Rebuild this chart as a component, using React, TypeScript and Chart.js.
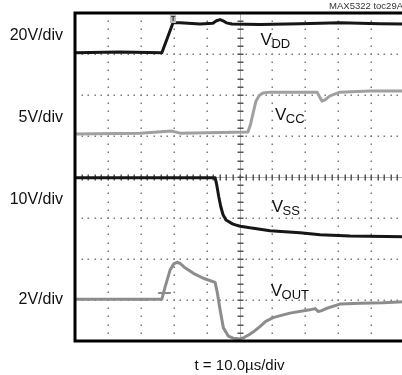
import { useEffect, useRef } from "react";
import { Chart, registerables } from "chart.js";

Chart.register(...registerables);

// time axis in divisions (10 div full scale), voltage axis in divisions (8 div)
const X_DIVS = 10;
const Y_DIVS = 8;

const vddX = [0, 1.37, 2.64, 2.98, 3.19, 3.8, 4.19, 4.3, 4.41, 4.5, 4.6, 4.77, 5.62, 6.84, 8.05, 9.27, 10];
const vddY = [7.03, 7.05, 7.03, 7.76, 7.76, 7.73, 7.75, 7.81, 7.84, 7.81, 7.76, 7.73, 7.72, 7.74, 7.76, 7.74, 7.73];

const vccX = [0, 1.98, 2.95, 3.19, 5.26, 5.34, 5.42, 5.5, 5.6, 5.71, 5.93, 7.36, 7.45, 7.51, 7.6, 7.75, 8.05, 8.97, 10];
const vccY = [5.05, 5.07, 5.12, 5.07, 5.1, 5.3, 5.58, 5.85, 5.99, 6.05, 6.07, 6.07, 5.93, 5.85, 5.88, 5.98, 6.07, 6.1, 6.1];

const vssX = [0, 4.26, 4.31, 4.37, 4.43, 4.5, 4.59, 4.8, 5.02, 5.32, 5.93, 6.84, 7.45, 8.36, 10];
const vssY = [3.98, 3.98, 3.8, 3.52, 3.28, 3.08, 2.95, 2.85, 2.8, 2.76, 2.69, 2.64, 2.59, 2.56, 2.54];

const voutX = [0, 2.64, 2.74, 2.89, 3.0, 3.1, 3.2, 3.32, 3.6, 3.9, 4.26, 4.33, 4.41, 4.51, 4.66, 4.81, 5.02, 5.15, 5.3, 5.45, 5.6, 5.8, 6.02, 6.3, 6.53, 7.14, 7.3, 7.39, 7.5, 7.66, 8.05, 8.66, 9.36, 10];
const voutY = [1.02, 1.02, 1.32, 1.73, 1.88, 1.92, 1.89, 1.8, 1.65, 1.53, 1.43, 1.16, 0.76, 0.32, 0.12, 0.07, 0.05, 0.09, 0.16, 0.24, 0.34, 0.48, 0.57, 0.63, 0.68, 0.76, 0.79, 0.72, 0.74, 0.8, 0.9, 0.92, 0.93, 0.96];

// trigger marker dashes near VOUT
const trigGreyX = [2.55, 2.89];
const trigGreyY = [1.17, 1.17];
const trigDarkX = [1.88, 2.19];
const trigDarkY = [1.02, 1.02];

const channelScaleLabels = ["20V/div", "5V/div", "10V/div", "2V/div"];
const channelNames = [
  { main: "V", sub: "DD" },
  { main: "V", sub: "CC" },
  { main: "V", sub: "SS" },
  { main: "V", sub: "OUT" },
];
const timeLabel = "t = 10.0\u00b5s/div";
const figureId = "MAX5322 toc29A";

const zip = (xs: number[], ys: number[]) => xs.map((x, i) => ({ x, y: ys[i] }));

const FONT = '"Liberation Sans", Arial, Helvetica, sans-serif';

const scopePlugin = {
  id: "scope",
  beforeDatasetsDraw(chart: any) {
    const { ctx, chartArea, scales } = chart;
    const xs = scales.x;
    const ys = scales.y;
    ctx.save();
    // dotted grid
    ctx.fillStyle = "#7a7a7a";
    for (let k = 1; k < X_DIVS; k++) {
      if (k === 5) continue;
      const px = Math.round(xs.getPixelForValue(k));
      for (let j = 1; j < Y_DIVS * 5; j++) {
        const py = ys.getPixelForValue(j / 5);
        ctx.fillRect(px - 0.5, Math.round(py) - 0.5, 1.5, 1.5);
      }
    }
    for (let k = 1; k < Y_DIVS; k++) {
      if (k === 4) continue;
      const py = Math.round(ys.getPixelForValue(k));
      for (let j = 1; j < X_DIVS * 5; j++) {
        const px = xs.getPixelForValue(j / 5);
        ctx.fillRect(Math.round(px) - 0.5, py - 0.5, 1.5, 1.5);
      }
    }
    // center crosshair with minor ticks
    const cx = Math.round(xs.getPixelForValue(5));
    const cy = Math.round(ys.getPixelForValue(4));
    ctx.strokeStyle = "#b0b0b0";
    ctx.lineWidth = 1;
    ctx.beginPath();
    ctx.moveTo(cx + 0.5, chartArea.top);
    ctx.lineTo(cx + 0.5, chartArea.bottom);
    ctx.moveTo(chartArea.left, cy + 0.5);
    ctx.lineTo(chartArea.right, cy + 0.5);
    ctx.stroke();
    ctx.fillStyle = "#555";
    for (let j = 1; j < Y_DIVS * 5; j++) {
      const py = Math.round(ys.getPixelForValue(j / 5));
      ctx.fillRect(cx - 2.5, py - 0.5, 6, 1.5);
    }
    for (let j = 1; j < X_DIVS * 5; j++) {
      const px = Math.round(xs.getPixelForValue(j / 5));
      ctx.fillRect(px - 0.5, cy - 2.5, 1.5, 6);
    }
    ctx.restore();
  },
  afterDatasetsDraw(chart: any) {
    const { ctx, chartArea, scales } = chart;
    const xs = scales.x;
    const ys = scales.y;
    ctx.save();
    // trigger marker "T" at top
    const tx = xs.getPixelForValue(2.98);
    ctx.fillStyle = "#bbb";
    ctx.fillRect(tx - 3, chartArea.top + 2, 6, 8);
    ctx.fillStyle = "#222";
    ctx.font = `bold 7px ${FONT}`;
    ctx.textAlign = "center";
    ctx.textBaseline = "middle";
    ctx.fillText("T", tx, chartArea.top + 6);

    // frame
    ctx.strokeStyle = "#000";
    ctx.lineWidth = 3;
    ctx.strokeRect(chartArea.left, chartArea.top, chartArea.right - chartArea.left, chartArea.bottom - chartArea.top);

    ctx.fillStyle = "#111";
    // channel scale labels
    const scaleY = [7.44, 5.44, 3.44, 1.02];
    ctx.font = `16px ${FONT}`;
    ctx.textAlign = "right";
    ctx.textBaseline = "middle";
    channelScaleLabels.forEach((t, i) => {
      ctx.fillText(t, chartArea.left - 12, ys.getPixelForValue(scaleY[i]));
    });
    // channel names
    const namePos = [
      [5.64, 7.21],
      [6.08, 5.39],
      [5.98, 3.15],
      [5.95, 1.1],
    ];
    ctx.textAlign = "left";
    ctx.textBaseline = "alphabetic";
    channelNames.forEach((n, i) => {
      const px = xs.getPixelForValue(namePos[i][0]);
      const py = ys.getPixelForValue(namePos[i][1]);
      ctx.font = `17px ${FONT}`;
      ctx.fillText(n.main, px, py);
      const w = ctx.measureText(n.main).width;
      ctx.font = `13px ${FONT}`;
      ctx.fillText(n.sub, px + w - 0.5, py + 3);
    });
    // time base label
    ctx.font = `15px ${FONT}`;
    ctx.textAlign = "center";
    ctx.fillText(timeLabel, xs.getPixelForValue(5), 370);
    // figure id
    ctx.font = `9.5px ${FONT}`;
    ctx.fillStyle = "#333";
    ctx.textAlign = "right";
    ctx.fillText(figureId, 403, 9);
    ctx.restore();
  },
};

export default function App() {
  const ref = useRef<HTMLCanvasElement | null>(null);
  useEffect(() => {
    if (!ref.current) return;
    const common = { showLine: true, pointRadius: 0, tension: 0, fill: false, borderJoinStyle: "round" as const, borderCapStyle: "round" as const };
    const chart = new Chart(ref.current, {
      type: "scatter",
      data: {
        datasets: [
          { ...common, label: "VDD", data: zip(vddX, vddY), borderColor: "#161616", borderWidth: 3 },
          { ...common, label: "VCC", data: zip(vccX, vccY), borderColor: "#a0a0a0", borderWidth: 3 },
          { ...common, label: "VSS", data: zip(vssX, vssY), borderColor: "#161616", borderWidth: 3 },
          { ...common, label: "VOUT", data: zip(voutX, voutY), borderColor: "#8c8c8c", borderWidth: 3 },
          { ...common, label: "trig", data: zip(trigGreyX, trigGreyY), borderColor: "#8c8c8c", borderWidth: 2 },
          { ...common, label: "trig2", data: zip(trigDarkX, trigDarkY), borderColor: "#333", borderWidth: 2 },
        ],
      },
      options: {
        responsive: false,
        animation: false,
        layout: { padding: { left: 75, right: 6, top: 13, bottom: 34 } },
        plugins: { legend: { display: false }, tooltip: { enabled: false } },
        scales: {
          x: { type: "linear", min: 0, max: X_DIVS, display: false },
          y: { type: "linear", min: 0, max: Y_DIVS, display: false },
        },
      },
      plugins: [scopePlugin],
    });
    return () => chart.destroy();
  }, []);
  return (
    <div style={{ position: "absolute", left: 0, top: 0, width: 402, height: 375, overflow: "hidden", background: "#fff" }}>
      <canvas ref={ref} width={410} height={375} style={{ width: 410, height: 375, display: "block" }} />
    </div>
  );
}
